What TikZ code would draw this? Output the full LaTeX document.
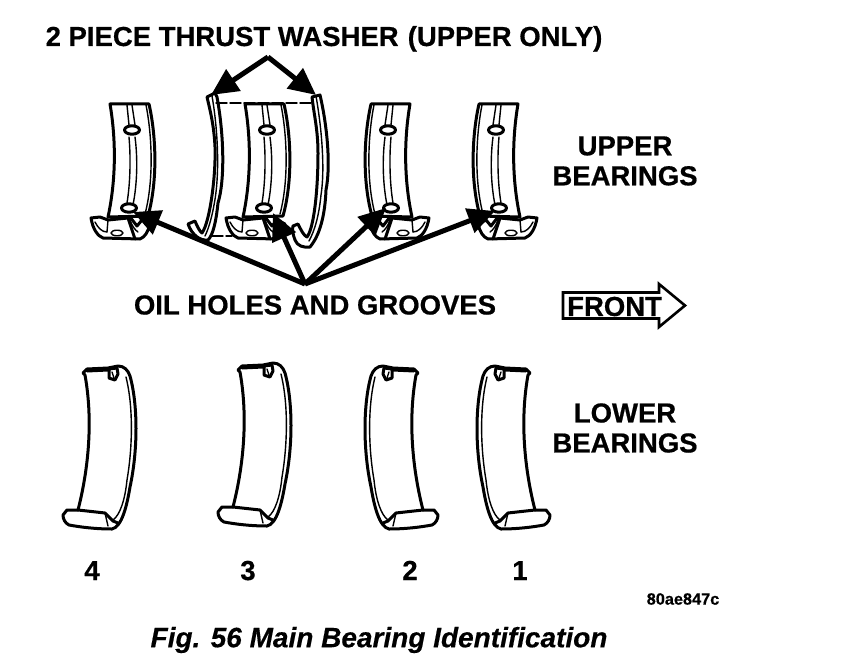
\documentclass[tikz,border=0pt]{standalone}
\usepackage{fontspec}
\setmainfont{Liberation Sans}[BoldFeatures={FakeBold=0.6},BoldItalicFeatures={FakeBold=0.4}]
\usetikzlibrary{arrows.meta}
\tikzset{
  lbl/.style={font=\fontsize{27.5}{30}\selectfont\bfseries,inner sep=0pt,align=center},
  edge/.style={line width=3pt,line join=round,line cap=round},
  thin edge/.style={line width=1.4pt,line join=round,line cap=round},
  pointer/.style={line width=5pt,-{Triangle[length=27pt,width=25pt]}},
}
\newcommand{\upperbearing}[2]{%
\begin{scope}[shift={(#1,0)},xscale=#2]
  % body
  \draw[edge,fill=white] (110,104) -- (149,104) .. controls (156,135) and (158,180) .. (148,216)
     -- (108,217) .. controls (115,185) and (117,145) .. (110,104) -- cycle;
  \draw[thin edge] (146,105) .. controls (152,135) and (154,180) .. (145,214);
  \draw[thin edge] (127,105) -- (129,125) (132,105) -- (135,125);
  \draw[thin edge] (129,137) .. controls (131,160) and (130,185) .. (127,203)
                   (135,137) .. controls (138,160) and (137,185) .. (133,205);
  \draw[edge,fill=white] (132,130) ellipse [x radius=7.5,y radius=4.2];
  % foot
  \draw[edge,fill=white] (91,218) -- (100,217) -- (108,220) -- (128,218) -- (130,217) -- (137,226) -- (142,220) -- (150,224)
     .. controls (148,232) and (145,237) .. (140,239) -- (103,238) .. controls (98,236) and (93,230) .. (91,218) -- cycle;
  \draw[thin edge] (95,222) .. controls (98,228) and (102,232) .. (107,232);
  \draw[thin edge] (108,220) -- (107,232);
  \draw[edge] (128,218) -- (135,239);
  \draw[thin edge] (130,220) .. controls (132,226) and (135,230) .. (138,232);
  \draw[thin edge,fill=white] (117,233) ellipse [x radius=6,y radius=2.8];
  \draw[edge,fill=white] (129,208) ellipse [x radius=7.5,y radius=4.2];
\end{scope}}
\newcommand{\lowerbearing}[3]{%
\begin{scope}[shift={(#1,#3)},xscale=#2]
  \draw[edge,fill=white] (83,373) -- (87,369) -- (108,368) -- (118,366) .. controls (124,366) and (128,370) .. (130,376)
     .. controls (138,405) and (138,450) .. (130,487) .. controls (127,505) and (122,527) .. (112,529)
     .. controls (95,529) and (80,527) .. (69,525) .. controls (65,523) and (63,519) .. (63,515) -- (67,510) -- (78,510)
     .. controls (87,475) and (94,425) .. (85,375) -- cycle;
  \draw[thin edge] (126,377) .. controls (133,405) and (133,445) .. (127,480) .. controls (125,500) and (120,515) .. (113,520);
  \draw[edge] (78,510) -- (105,513) -- (113,521) -- (118,523);
  \draw[thin edge] (105,513) -- (108,526);
  \draw[edge] (87,371) -- (108,370);
  \draw[edge,fill=white] (109,369) -- (109,378) -- (115,380) -- (118,374) -- (117,368) -- cycle;
  \draw[thin edge] (112,372) -- (114,378);
\end{scope}}
\begin{document}
\begin{tikzpicture}[x=1pt,y=-1pt]
\useasboundingbox (0,0) rectangle (864,658);
\fill[white] (0,0) rectangle (864,658);

\upperbearing{0}{1}
% left washer
\draw[edge,fill=white] (207,97) -- (215,93) -- (217,97) .. controls (224,135) and (225,180) .. (218,203)
  .. controls (216,222) and (213,235) .. (208,240) .. controls (200,241) and (192,235) .. (188,224)
  -- (195,221) .. controls (197,226) and (200,232) .. (202,233) .. controls (210,222) and (216,175) .. (215,147)
  .. controls (214,125) and (210,110) .. (207,97) -- cycle;
\draw[thin edge] (212,96) .. controls (218,130) and (220,175) .. (214,205) .. controls (211,222) and (207,232) .. (205,236);
\draw[thin edge,dash pattern=on 11pt off 3pt] (216,103) -- (313,103);
\draw[thin edge,dash pattern=on 11pt off 3pt] (212,236) -- (232,236);
\upperbearing{135}{1}
% right washer
\draw[edge,fill=white] (312,97) -- (320,95) .. controls (327,125) and (331,165) .. (326,190)
  .. controls (325,215) and (320,235) .. (310,247) .. controls (304,248) and (297,246) .. (295,240)
  .. controls (293,235) and (292,229) .. (293,226) -- (298,224) .. controls (301,230) and (304,236) .. (307,237)
  .. controls (314,228) and (318,190) .. (318,153) .. controls (318,130) and (314,115) .. (312,97) -- cycle;
\draw[thin edge] (316,96) .. controls (322,130) and (325,170) .. (321,195) .. controls (319,215) and (315,230) .. (309,241);

\upperbearing{520}{-1}
\upperbearing{628}{-1}

\lowerbearing{0}{1}{0}
\lowerbearing{155}{1}{-3}
\lowerbearing{501}{-1}{0}
\lowerbearing{613}{-1}{0}

% labels
\node[lbl,anchor=base] (title) at (324,46) {2 PIECE THRUST WASHER\,\,(UPPER ONLY)};
\node[lbl] (upper) at (625,161) {UPPER\\[0pt]BEARINGS};
\node[lbl] (oil) at (315,305) {OIL HOLES AND GROOVES};
\node[lbl] (lower) at (625,428) {LOWER\\[0pt]BEARINGS};
\node[lbl,anchor=base] (n4) at (92,580) {4};
\node[lbl,anchor=base] (n3) at (248,580) {3};
\node[lbl,anchor=base] (n2) at (410,580) {2};
\node[lbl,anchor=base] (n1) at (520,580) {1};
\node[font=\fontsize{16.3}{18}\selectfont\bfseries,inner sep=0pt] (code) at (683,599) {80ae847c};
\node[font=\fontsize{28}{30}\selectfont\bfseries\itshape,inner sep=0pt] (caption) at (379,640) {Fig. 56 Main Bearing Identification};

% front arrow
\draw[line width=2.6pt,miter limit=10] (563,292.5) -- (659,292.5) -- (659,284) -- (685,305.5) -- (659,327) -- (659,318.5) -- (563,318.5) -- cycle;
\node[lbl,anchor=west] (front) at (567,306.5) {FRONT};

% pointers
\coordinate (topsrc) at (268,57);
\coordinate (wl) at (211,95);
\coordinate (wr) at (316,95);
\coordinate (oilsrc) at (305,284);
\coordinate (h1) at (133,212);
\coordinate (h2) at (273,213);
\coordinate (h3) at (386,208);
\coordinate (h4) at (495,211);
\draw[pointer] (topsrc) -- (wl);
\draw[pointer] (topsrc) -- (wr);
\draw[pointer] (oilsrc) -- (h1);
\draw[pointer] (oilsrc) -- (h2);
\draw[pointer] (oilsrc) -- (h3);
\draw[pointer] (oilsrc) -- (h4);
\end{tikzpicture}
\end{document}
